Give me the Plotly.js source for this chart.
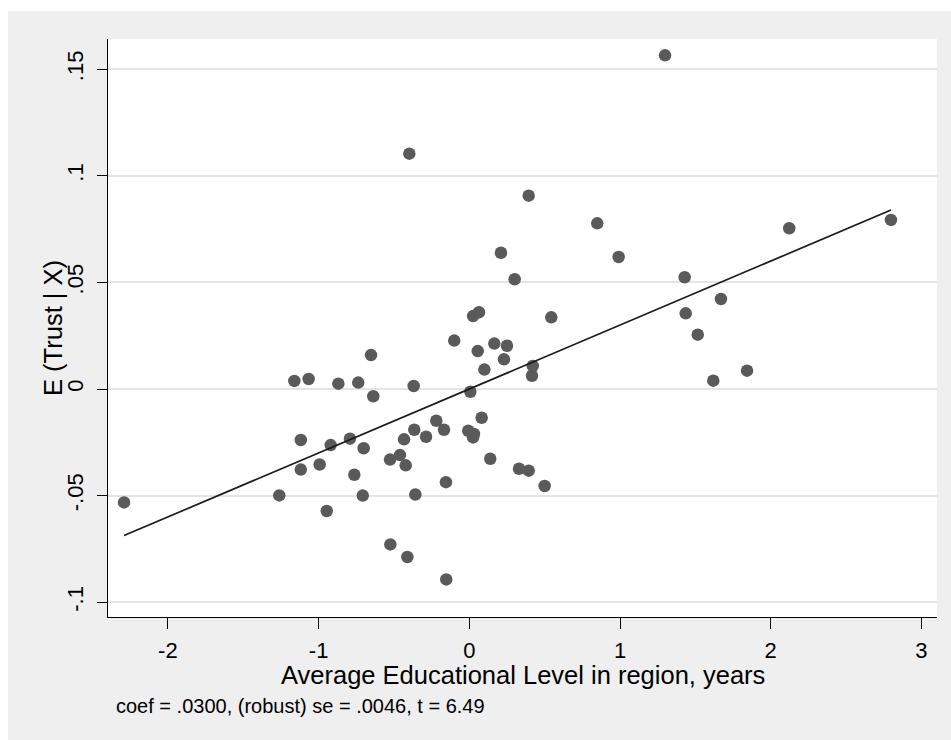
<!DOCTYPE html>
<html>
<head>
<meta charset="utf-8">
<script src="https://cdn.plot.ly/plotly-3.0.1.min.js"></script>
<style>
  html, body { margin: 0; padding: 0; background: #ffffff; }
  #chart { position: absolute; left: 8px; top: 11px; width: 943px; height: 729px; }
</style>
</head>
<body>
<div id="chart"></div>
<script>
// Average Educational Level in region (residual), years
const eduX = [
  -2.291, -1.261, -1.161, -1.066, -1.118, -1.118, -0.993, -0.946, -0.920, -0.869,
  -0.792, -0.763, -0.737, -0.707, -0.701, -0.652, -0.637, -0.526, -0.524, -0.460,
  -0.433, -0.422, -0.411, -0.398, -0.369, -0.365, -0.358, -0.287, -0.219, -0.168,
  -0.155, -0.153, -0.100, -0.007, 0.007, 0.025, 0.025, 0.031, 0.056, 0.064,
  0.082, 0.100, 0.139, 0.166, 0.210, 0.230, 0.250, 0.301, 0.330, 0.394,
  0.394, 0.416, 0.421, 0.500, 0.544, 0.849, 0.991, 1.299, 1.429, 1.436,
  1.516, 1.619, 1.670, 1.843, 2.123, 2.798
];
// E(Trust | X)
const trustY = [
  -0.0532, -0.0499, 0.0038, 0.0047, -0.0239, -0.0378, -0.0354, -0.0572, -0.0263, 0.0025,
  -0.0233, -0.0402, 0.0030, -0.0500, -0.0278, 0.0159, -0.0034, -0.0331, -0.0729, -0.0310,
  -0.0236, -0.0358, -0.0788, 0.1104, 0.0014, -0.0191, -0.0495, -0.0224, -0.0149, -0.0191,
  -0.0437, -0.0893, 0.0227, -0.0196, -0.0013, 0.0342, -0.0227, -0.0211, 0.0178, 0.0360,
  -0.0135, 0.0091, -0.0327, 0.0213, 0.0639, 0.0139, 0.0203, 0.0515, -0.0374, 0.0907,
  -0.0383, 0.0062, 0.0108, -0.0455, 0.0336, 0.0777, 0.0619, 0.1565, 0.0524, 0.0355,
  0.0255, 0.0039, 0.0422, 0.0086, 0.0754, 0.0793
];
const coef = 0.0300;
const xTickVals = [-2, -1, 0, 1, 2, 3];
const xTickText = ['-2', '-1', '0', '1', '2', '3'];
const yTickVals = [-0.1, -0.05, 0, 0.05, 0.1, 0.15];
const yTickText = ['-.1', '-.05', '0', '.05', '.1', '.15'];
const xTitle = 'Average Educational Level in region, years';
const yTitle = 'E (Trust | X)';
const noteText = 'coef = .0300, (robust) se = .0046, t = 6.49';

const xMin = Math.min(...eduX), xMax = Math.max(...eduX);
const fitX = [xMin, xMax];
const fitY = fitX.map(v => coef * v);

const FONT = '"Liberation Sans", Arial, Helvetica, sans-serif';

const traces = [
  {
    x: eduX, y: trustY, type: 'scatter', mode: 'markers',
    marker: { size: 12.5, color: '#5a5a5a', line: { width: 0 } },
    hoverinfo: 'skip', showlegend: false
  },
  {
    x: fitX, y: fitY, type: 'scatter', mode: 'lines',
    line: { color: '#1a1a1a', width: 1.7 },
    hoverinfo: 'skip', showlegend: false
  }
];

const layout = {
  width: 943, height: 729,
  paper_bgcolor: '#efefef',
  plot_bgcolor: '#ffffff',
  margin: { l: 100, r: 14, t: 28, b: 123, pad: 0 },
  font: { family: FONT, color: '#000000' },
  showlegend: false,
  xaxis: {
    range: [-2.3975, 3.1035],
    tickvals: xTickVals, ticktext: xTickText,
    ticks: 'outside', ticklen: 11, tickwidth: 1, tickcolor: '#000000',
    ticklabelstandoff: 3,
    showline: true, linecolor: '#000000', linewidth: 1,
    showgrid: false, zeroline: false, mirror: false,
    tickfont: { size: 22, family: FONT, color: '#000000' },
    automargin: false
  },
  yaxis: {
    range: [-0.10694, 0.16417],
    tickvals: yTickVals, ticktext: yTickText,
    ticks: 'outside', ticklen: 10, tickwidth: 1, tickcolor: '#000000',
    tickangle: -90, ticklabelstandoff: 5,
    showline: true, linecolor: '#000000', linewidth: 1,
    showgrid: true, gridcolor: '#e4e4e4', gridwidth: 2,
    zeroline: false, mirror: false,
    tickfont: { size: 22, family: FONT, color: '#000000' },
    automargin: false
  },
  annotations: [
    {
      text: xTitle, xref: 'paper', yref: 'paper', x: 0.5, y: 0,
      xanchor: 'center', yanchor: 'middle', yshift: -58, showarrow: false,
      font: { size: 25.5, family: FONT, color: '#000000' }
    },
    {
      text: yTitle, textangle: -90, xref: 'paper', yref: 'paper', x: 0, y: 0.5,
      xanchor: 'center', yanchor: 'middle', xshift: -55, showarrow: false,
      font: { size: 25.5, family: FONT, color: '#000000' }
    },
    {
      text: noteText, xref: 'paper', yref: 'paper', x: 0.0072, y: 0,
      xanchor: 'left', yanchor: 'middle', yshift: -89, showarrow: false,
      font: { size: 20, family: FONT, color: '#000000' }
    }
  ]
};

Plotly.newPlot('chart', traces, layout, { staticPlot: true, displayModeBar: false });
</script>
</body>
</html>
